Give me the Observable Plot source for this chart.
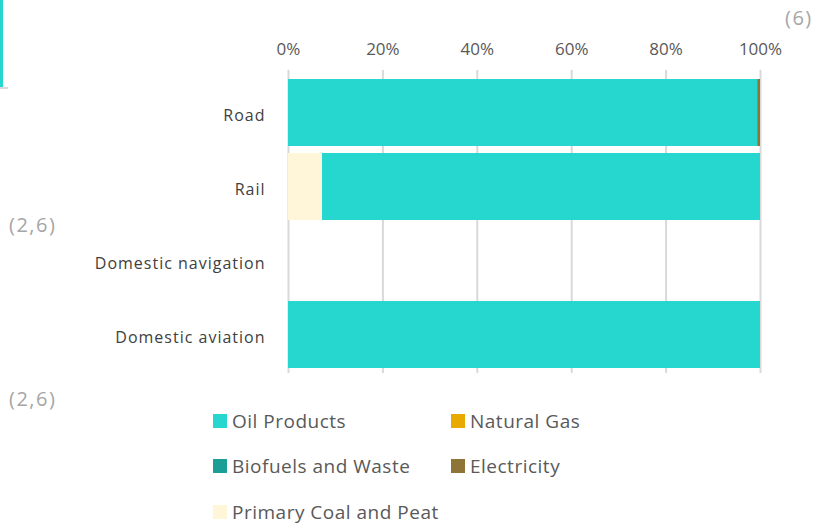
<!DOCTYPE html>
<html><head><meta charset="utf-8">
<script src="https://cdn.jsdelivr.net/npm/d3@7"></script>
<script src="https://cdn.jsdelivr.net/npm/@observablehq/plot@0.6"></script>
<style>
body{margin:0;background:#fff;font-family:"Open Sans",sans-serif;}
#wrap{position:relative;width:831px;height:527px;overflow:hidden;}
#chart{position:absolute;left:0;top:0;}
.note{position:absolute;color:#a6a6a6;font-size:20px;letter-spacing:1.5px;line-height:24px;}
.leg{position:absolute;display:flex;align-items:center;font-size:19px;color:#595959;white-space:nowrap;letter-spacing:0.5px;}
.leg span.sw{display:inline-block;width:14px;height:14px;margin-right:5px;}
.yl text{letter-spacing:1px;}
</style></head>
<body><div id="wrap">
<div id="chart"></div>
<div style="position:absolute;left:0;top:0;width:3px;height:87px;background:#26d7cf"></div>
<div style="position:absolute;left:0;top:87px;width:8px;height:2px;background:#d9d9d9"></div>
<div class="note" style="left:785px;top:6px">(6)</div>
<div class="note" style="left:9px;top:213px">(2,6)</div>
<div class="note" style="left:9px;top:387px">(2,6)</div>
<div id="legend"></div>
</div>
<script>
const modes = ["Road", "Rail", "Domestic navigation", "Domestic aviation"];
const fuels = ["Oil Products", "Natural Gas", "Biofuels and Waste", "Electricity", "Primary Coal and Peat"];
const fuelColors = ["#26d7cf", "#e8a900", "#1a9e96", "#8f7438", "#fff5d9"];
const stackOrder = ["Primary Coal and Peat", "Oil Products", "Biofuels and Waste", "Natural Gas", "Electricity"];
const oilProducts = [99.4, 92.8, 0, 100];
const naturalGas = [0, 0, 0, 0];
const biofuels = [0, 0, 0, 0];
const electricity = [0.6, 0, 0, 0];
const coalPeat = [0, 7.2, 0, 0];
const xTicks = [0, 20, 40, 60, 80, 100];

const series = {"Oil Products": oilProducts, "Natural Gas": naturalGas, "Biofuels and Waste": biofuels, "Electricity": electricity, "Primary Coal and Peat": coalPeat};
const rows = [];
for (const f of stackOrder) modes.forEach((m, i) => { if (series[f][i] > 0) rows.push({mode: m, fuel: f, value: series[f][i]}); });

const chart = Plot.plot({
  width: 831, height: 382,
  marginLeft: 288, marginRight: 71, marginTop: 70, marginBottom: 9,
  style: {fontFamily: "'Open Sans', sans-serif", background: "#fff"},
  x: {domain: [0, 100], ticks: xTicks, label: null},
  y: {domain: modes, range: [71.6, 375.4], padding: 0.1, label: null},
  color: {domain: fuels, range: fuelColors},
  marks: [
    Plot.gridX(xTicks, {stroke: "#d9d9d9", strokeOpacity: 1, strokeWidth: 2}),
    Plot.barX(rows, Plot.stackX({x: "value", y: "mode", fill: "fuel", order: stackOrder})),
    Plot.axisX(xTicks, {anchor: "top", tickSize: 0, tickPadding: 16, tickFormat: d => d + "%", fontSize: 17, fill: "#595959", label: null}),
    Plot.axisY({tickSize: 0, tickPadding: 23, fontSize: 16, fill: "#404040", label: null, dy: 3, className: "yl"})
  ]
});
document.getElementById("chart").appendChild(chart);

const legPos = [[213, 421], [451, 421], [213, 466], [451, 466], [213, 512]];
const leg = document.getElementById("legend");
fuels.forEach((f, i) => {
  const d = document.createElement("div");
  d.className = "leg";
  d.style.left = legPos[i][0] + "px";
  d.style.top = (legPos[i][1] - 12) + "px";
  d.style.height = "24px";
  d.innerHTML = `<span class="sw" style="background:${fuelColors[i]}"></span>${f}`;
  leg.appendChild(d);
});
</script>
</body></html>
